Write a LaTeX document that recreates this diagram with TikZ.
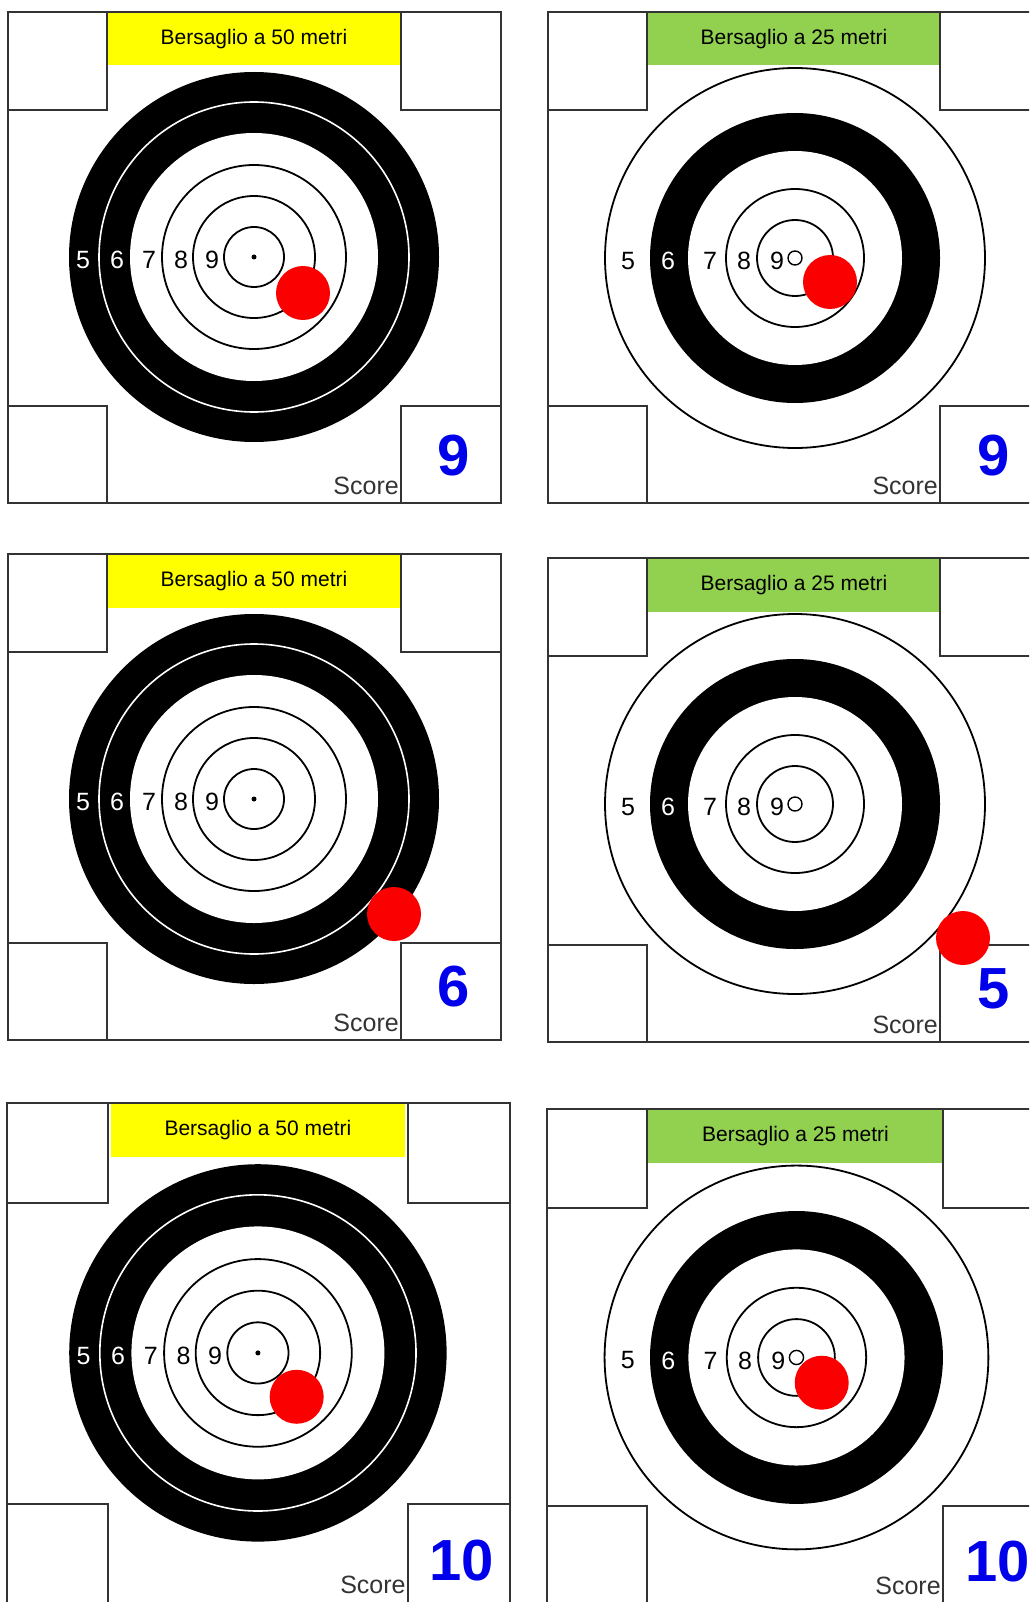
\documentclass[tikz,border=0pt]{standalone}
\usepackage{fontspec}
\setmainfont{Liberation Sans}
\usepackage{tikz}
\definecolor{giallo}{RGB}{255,255,0}
\definecolor{verde}{HTML}{92D050}
\definecolor{blu}{RGB}{0,0,235}
\definecolor{rosso}{RGB}{250,0,0}
\tikzset{
  cornice/.style={draw=black!80, line width=1.6pt},
  anello/.style={draw=black, line width=1.8pt},
  fascia/.style={rectangle, minimum width=294pt, minimum height=53pt, inner sep=0pt, font=\fontsize{21}{25}\selectfont},
  cifra/.style={inner sep=0pt, font=\fontsize{25}{30}\selectfont},
  colpo/.style={circle, fill=rosso, inner sep=0pt, minimum size=54pt},
  dicitura/.style={anchor=base east, inner sep=0pt, text=black!80, font=\fontsize{25}{30}\selectfont},
  punteggio/.style={anchor=base, inner sep=0pt, text=blu, font=\fontsize{58}{66}\selectfont\bfseries}
}

\begin{document}
\begin{tikzpicture}[x=1pt, y=-1pt]
  \useasboundingbox (0,0) rectangle (1029,1602);
  \clip (0,0) rectangle (1029,1602);
  \fill[white] (0,0) rectangle (1029,1602);

  % ================= BERSAGLI A 50 METRI (colonna sinistra) =================
  \foreach \i/\px/\py/\fs/\hh/\nb/\dx/\dy/\punti in {1/8/12/1/491/28/49/36/9, 2/8/554/1/486/34/140/115/6, 3/7/1103/1.02/490/22/38/43/10}{
    \begin{scope}[shift={(\px,\py)}, scale=\fs]
      % --- Fascia del titolo ---
      \node[fascia, fill=giallo] (titolo-\i) at (246,27) {Bersaglio a 50 metri};

      % --- Cornice e riquadri d'angolo ---
      \draw[cornice] (0,0) rectangle (493,\hh);
      \draw[cornice] (0,98) -| (99,0);
      \draw[cornice] (493,98) -| (393,0);
      \draw[cornice] (0,{\hh-97}) -| (99,\hh);
      \draw[cornice] (493,{\hh-97}) -| (393,\hh);

      % --- Bersaglio: corona nera con filetto bianco, anelli interni ---
      \begin{scope}[shift={(246,245)}]
        \fill[black] (0,0) circle (185);
        \fill[white] (0,0) circle (124);
        \draw[white, line width=1.6pt] (0,0) circle (155);
        \foreach \r in {92,61,30} \draw[anello] (0,0) circle (\r);
        \fill[black] (0,0) circle (2.5);
        \foreach \n/\xx/\col in {5/-171/white, 6/-137/white, 7/-105/black, 8/-73/black, 9/-42/black}
          \node[cifra, text=\col] (c\n-\i) at (\xx,3) {\n};
        % colpo a segno
        \node[colpo] (colpo-\i) at (\dx,\dy) {};
      \end{scope}

      % --- Punteggio ---
      \node[dicitura] (score-\i) at (391,{\hh-9}) {Score};
      \node[punteggio] (punti-\i) at (446,{\hh-\nb}) {\punti};
    \end{scope}
  }

  % ================= BERSAGLI A 25 METRI (colonna destra) =================
  \foreach \i/\px/\py/\fs/\hh/\nb/\dx/\dy/\punti in {4/548/12/1/491/28/35/24/9, 5/548/558/1/484/34/168/134/5, 6/547/1109/1.01/490/22/25/25/10}{
    \begin{scope}[shift={(\px,\py)}, scale=\fs]
      % --- Fascia del titolo ---
      \node[fascia, fill=verde] (titolo-\i) at (246,27) {Bersaglio a 25 metri};

      % --- Cornice e riquadri d'angolo ---
      \draw[cornice] (0,0) rectangle (493,\hh);
      \draw[cornice] (0,98) -| (99,0);
      \draw[cornice] (493,98) -| (392,0);
      \draw[cornice] (0,{\hh-97}) -| (99,\hh);
      \draw[cornice] (493,{\hh-97}) -| (392,\hh);

      % --- Bersaglio: cerchio esterno, corona nera, anelli interni ---
      \begin{scope}[shift={(247,246)}]
        \draw[anello] (0,0) circle (190);
        \fill[black] (0,0) circle (145);
        \fill[white] (0,0) circle (107);
        \foreach \r in {69,38} \draw[anello] (0,0) circle (\r);
        \draw[anello, line width=1.4pt] (0,0) circle (7);
        \foreach \n/\xx/\col in {5/-167/black, 6/-127/white, 7/-85/black, 8/-51/black, 9/-18/black}
          \node[cifra, text=\col] (c\n-\i) at (\xx,3) {\n};
        % colpo a segno
        \node[colpo] (colpo-\i) at (\dx,\dy) {};
      \end{scope}

      % --- Punteggio ---
      \node[dicitura] (score-\i) at (390,{\hh-9}) {Score};
      \node[punteggio] (punti-\i) at (446,{\hh-\nb}) {\punti};
    \end{scope}
  }
\end{tikzpicture}
\end{document}
